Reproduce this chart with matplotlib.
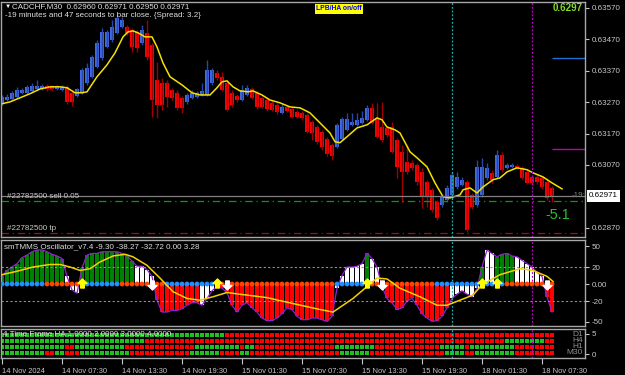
import numpy as np
import matplotlib.pyplot as plt
from matplotlib.path import Path

plt.rcParams['font.family'] = ['Liberation Sans', 'DejaVu Sans']

# CADCHF M30 candles, prices in points (1e-5)
opens = [63268, 63277, 63281, 63287, 63300, 63300, 63306, 63312, 63312, 63322,
         63319, 63312, 63309, 63319, 63300, 63290, 63300, 63332, 63351, 63383,
         63411, 63446, 63469, 63491, 63510, 63510, 63500, 63494, 63459, 63491,
         63453, 63341, 63332, 63332, 63309, 63300, 63284, 63271, 63284, 63287,
         63293, 63293, 63332, 63363, 63351, 63332, 63300, 63290, 63277, 63293,
         63312, 63300, 63284, 63277, 63268, 63262, 63236, 63255, 63249, 63239,
         63236, 63230, 63207, 63191, 63176, 63153, 63134, 63128, 63153, 63182,
         63198, 63198, 63204, 63214, 63252, 63220, 63191, 63188, 63191, 63150,
         63112, 63080, 63077, 63070, 63048, 63016, 62991, 62953, 62943, 62959,
         62975, 63000, 63007, 63016, 62975, 62943, 62975, 63029, 63045, 63032,
         63102, 63061, 63064, 63067, 63061, 63048, 63032, 63032, 63029, 63016,
         62997]
highs = [63293, 63297, 63306, 63319, 63316, 63325, 63332, 63341, 63328, 63328,
         63325, 63325, 63325, 63325, 63309, 63316, 63379, 63395, 63421, 63469,
         63507, 63500, 63532, 63551, 63542, 63516, 63507, 63500, 63516, 63532,
         63459, 63398, 63348, 63341, 63316, 63309, 63290, 63300, 63309, 63306,
         63332, 63405, 63379, 63373, 63367, 63341, 63309, 63297, 63325, 63325,
         63319, 63306, 63290, 63284, 63274, 63268, 63265, 63262, 63255, 63246,
         63242, 63236, 63214, 63198, 63182, 63160, 63141, 63204, 63223, 63236,
         63236, 63236, 63242, 63262, 63268, 63268, 63271, 63195, 63207, 63156,
         63134, 63134, 63086, 63077, 63061, 63023, 62997, 62959, 62975, 63007,
         63048, 63048, 63032, 63023, 62981, 63086, 63093, 63077, 63055, 63118,
         63112, 63077, 63077, 63074, 63067, 63055, 63039, 63039, 63035, 63023,
         63004]
lows = [63262, 63274, 63277, 63284, 63297, 63297, 63303, 63309, 63309, 63306,
        63306, 63309, 63306, 63265, 63258, 63287, 63297, 63325, 63348, 63379,
        63405, 63443, 63462, 63488, 63507, 63484, 63430, 63430, 63453, 63405,
        63223, 63220, 63246, 63255, 63277, 63246, 63236, 63265, 63281, 63284,
        63290, 63290, 63325, 63341, 63306, 63242, 63255, 63271, 63274, 63290,
        63281, 63249, 63252, 63242, 63242, 63233, 63233, 63239, 63220, 63220,
        63214, 63172, 63150, 63137, 63118, 63099, 63086, 63125, 63150, 63179,
        63195, 63195, 63201, 63211, 63201, 63156, 63144, 63160, 63109, 63029,
        62953, 63042, 63055, 63007, 62934, 62937, 62921, 62895, 62937, 62953,
        62972, 62994, 63004, 62857, 62930, 62937, 62969, 63023, 63013, 63029,
        63048, 63058, 63061, 63058, 63026, 63010, 63007, 63010, 62994, 62959,
        62953]
closes = [63287, 63287, 63300, 63309, 63309, 63319, 63322, 63322, 63322, 63312,
          63312, 63319, 63319, 63271, 63271, 63312, 63373, 63379, 63414, 63459,
          63494, 63494, 63510, 63539, 63532, 63491, 63446, 63443, 63500, 63414,
          63277, 63262, 63262, 63287, 63284, 63252, 63252, 63293, 63300, 63300,
          63306, 63373, 63373, 63348, 63309, 63246, 63262, 63277, 63309, 63316,
          63284, 63255, 63255, 63249, 63246, 63239, 63255, 63242, 63223, 63223,
          63220, 63176, 63172, 63144, 63128, 63106, 63099, 63198, 63217, 63217,
          63207, 63214, 63220, 63252, 63204, 63160, 63150, 63166, 63112, 63064,
          63048, 63048, 63061, 63016, 62969, 62969, 62927, 62902, 62969, 62997,
          63039, 63032, 63023, 62863, 62937, 63064, 63064, 63061, 63023, 63102,
          63055, 63070, 63070, 63061, 63029, 63013, 63013, 63016, 63000, 62965,
          62971]

# yellow moving average (bar, price points)
ma_bar = [0, 1.6, 3.6, 5.6, 7.6, 9.6, 11.6, 13, 14.6, 16, 17, 19, 21, 22.6, 24.2,
          25.2, 26.2, 27.2, 28.6, 30, 31, 32.2, 33.6, 36, 38, 39.6, 41.6, 43, 44,
          45, 46.2, 47.6, 49.2, 50.2, 52, 53.6, 55.6, 57.6, 59.6, 61.6, 63.6,
          65.6, 66.6, 67.6, 69, 71, 73, 75, 76, 77, 78.6, 79.6, 81.6, 83, 85,
          86.6, 88.2, 89.6, 91.6, 92.2, 93.6, 95, 96.2, 98.2, 99.6, 101, 103,
          105, 106.2, 108.2, 110, 112]
ma_pts = [63265, 63271, 63284, 63297, 63312, 63319, 63319, 63316, 63300, 63300,
          63303, 63351, 63389, 63427, 63478, 63494, 63497, 63491, 63478, 63478,
          63446, 63395, 63351, 63325, 63300, 63293, 63293, 63316, 63335, 63338,
          63319, 63306, 63303, 63306, 63293, 63277, 63268, 63255, 63252, 63236,
          63204, 63172, 63144, 63141, 63160, 63188, 63198, 63220, 63214, 63191,
          63182, 63172, 63112, 63093, 63064, 63013, 62969, 62965, 62975, 62991,
          62997, 62981, 63000, 63023, 63029, 63048, 63061, 63055, 63045, 63032,
          63013, 62994]

# oscillator
osc_vals = [9, 16, 20, 24, 31, 34, 38, 40, 40, 38, 35, 33, 30, 9, -7, -11, 19, 34, 36, 36,
            38, 38, 38, 38, 36, 33, 27, 21, 21, 17, 9, -19, -33, -33, -31, -31, -29, -25, -22, -22,
            -25, -17, -8, -3, -5, -10, -25, -33, -25, -22, -28, -33, -40, -43, -43, -40, -35, -28, -30, -38,
            -42, -42, -40, -40, -42, -44, -38, -5, 10, 20, 20, 21, 24, 36, 30, 20, -3, -17, -22, -30,
            -28, -20, -17, -25, -35, -40, -44, -43, -38, -28, -17, -12, -8, -12, -15, -5, 20, 40, 36, 32,
            35, 36, 33, 32, 28, 24, 20, 14, 9, -15, -33]
osc_cols = ("ggggggggggggg" "www" "ggggggggggg" "wwww" "rrrrrrrrr" "wwww"
            "rrrrrrrrrrrrrrrrrrrrrrr" "wwwwww" "g" "ww" "rrrrrrrrrrrrrr" "wwwwww"
            "g" "ww" "gggg" "wwwwww" "rr")
dot_cols = ("bbbbbbbbb" "ooooooo" "bbbbbbbb" "ooooooooo" "bbbbbbbbbb"
            "oooooooooooooooooooooooo" "bbbbbb" "oooooooooooooo" "bbbbbbbbbbbbbb"
            "oooooooooo")
sig_bar = [0, 3, 6.2, 9.6, 11.6, 13.6, 15.6, 17.6, 19.6, 22.2, 24.6, 26.2, 29, 31.6,
           34.2, 37, 39.6, 42.2, 45, 47.6, 53, 58.2, 63.6, 66.2, 70.2, 73, 75, 77,
           79.6, 83.6, 87, 89, 91.6, 94.2, 96, 99.6, 103.6, 106.2, 109, 110.2]
sig_val = [11, 15, 20, 23, 23, 20, 16, 18, 26, 33, 35, 32, 22, 7, -9, -17, -19, -15,
           -10, -12, -16, -23, -30, -33, -17, -3, 7, 6, -5, -15, -25, -25, -19, -13,
           -1, 11, 18, 16, 9, 3]
up_bars = [16, 43, 73, 96, 99]
down_bars = [30, 45, 76, 109]

# 4 time frame HA rows (top to bottom)
tf_names = ["D1", "H4", "H1", "M30"]
tf_rows = [
    "g" * 45 + "r" * 66,
    "g" * 29 + "r" * 72 + "g" * 8 + "r" * 2,
    "g" * 13 + "rr" + "g" * 10 + "r" * 14 + "g" * 9 + "r" + "gg" + "r" * 16
    + "g" * 8 + "r" * 13 + "g" * 5 + "r" + "g" * 9 + "r" * 8,
    "g" * 9 + "rr" + "gg" + "rrr" + "g" * 10 + "r" * 12 + "g" * 6 + "r" * 4
    + "gg" + "r" * 18 + "g" * 6 + "r" * 15 + "g" * 4 + "rr" + "g" * 8 + "r" * 8,
]

time_labels = ["14 Nov 2024", "14 Nov 07:30", "14 Nov 13:30", "14 Nov 19:30",
               "15 Nov 01:30", "15 Nov 07:30", "15 Nov 13:30", "15 Nov 19:30",
               "18 Nov 01:30", "18 Nov 07:30"]
price_ticks = [0.63570, 0.63470, 0.63370, 0.63270, 0.63170, 0.63070, 0.62870]

W, H = 625, 375
fig = plt.figure(figsize=(W / 100, H / 100), dpi=100, facecolor='black')


def add_ax(x0, y0, x1, y1):
    a = fig.add_axes([x0 / W, 1 - y1 / H, (x1 - x0) / W, (y1 - y0) / H])
    a.set_facecolor('black')
    for s in a.spines.values():
        s.set_color('#a8a8a8')
        s.set_linewidth(1)
    a.yaxis.tick_right()
    a.tick_params(axis='y', colors='#c8c8c8', labelsize=5.8, length=3, width=0.8, pad=2)
    a.tick_params(axis='x', colors='#c8c8c8', labelsize=5.4, length=4, width=0.8)
    a.set_xlim(-0.2, 116.6)
    return a


def ptext(x, y, s, **kw):
    kw.setdefault('va', 'center')
    kw.setdefault('fontsize', 5.8)
    return fig.text(x / W, 1 - y / H, s, **kw)


ax = add_ax(1, 2, 585, 237)
ax2 = add_ax(1, 240, 585, 326)
ax3 = add_ax(1, 329, 585, 358)

x = np.arange(len(closes))
o = np.array(opens) / 1e5
c = np.array(closes) / 1e5
hi = np.array(highs) / 1e5
lo = np.array(lows) / 1e5
bull = c >= o

# candles
ax.vlines(x, lo, hi, colors=np.where(bull, '#2748a8', '#a00000'), lw=1)
body = np.maximum(np.abs(c - o), 0.000015)
ax.bar(x, body, bottom=np.minimum(o, c), width=0.74,
       color=np.where(bull, '#4169e1', '#ff0000'), lw=0)
ax.plot(ma_bar, np.array(ma_pts) / 1e5, color='#f5e100', lw=1.1)

# order / bid lines
ax.axhline(0.62971, color='#808080', lw=0.9)
ax.axhline(0.62955, color='#00a000', lw=0.9, ls=(0, (6, 3, 1, 3)))
ax.axhline(0.62855, color='#c80000', lw=0.9, ls=(0, (6, 3, 1, 3)))
ax.hlines(0.63410, 110, 116.6, color='#1e6fd0', lw=1)
ax.hlines(0.63120, 110, 116.6, color='#c000c0', lw=1)

ax.set_ylim(0.628407, 0.635891)
ax.set_yticks(price_ticks, [f"{p:.5f}" for p in price_ticks])
ax.set_xticks([])

# oscillator panel
cmap = {'g': '#008000', 'w': '#ffffff', 'r': '#ff0000'}
ax2.bar(x, osc_vals, width=0.62, color=[cmap[k] for k in osc_cols], lw=0)
ax2.plot(x, osc_vals, color='#9020d0', lw=0.9)
for lvl in (20, -20):
    ax2.axhline(lvl, color='#909090', lw=0.8, ls=(0, (2, 2)))
dmap = {'b': '#1e90ff', 'o': '#ff4500'}
ax2.scatter(x, np.zeros(len(x)), s=12, c=[dmap[k] for k in dot_cols], lw=0, zorder=3)
ax2.plot(sig_bar, sig_val, color='#f5d000', lw=1.1, zorder=4)
arrow = Path([(0, 1), (-1, 0), (-0.4, 0), (-0.4, -1), (0.4, -1), (0.4, 0), (1, 0), (0, 1)],
             [Path.MOVETO] + [Path.LINETO] * 6 + [Path.CLOSEPOLY])
arrow_dn = Path(arrow.vertices * [1, -1], arrow.codes)
ax2.plot(up_bars, [1] * len(up_bars), ls='none', marker=arrow, ms=6.5,
         color='#ffff00', mec='#ffff00', zorder=5)
ax2.plot(down_bars, [-1] * len(down_bars), ls='none', marker=arrow_dn, ms=6.5,
         color='#ffffff', mec='#ffffff', zorder=5)
ax2.set_ylim(-49.4, 51.8)
ax2.set_yticks([44.5, 20, 0, -20, -44.5], ["50", "20", "0.00", "-20", "-50"])
ax2.set_xticks([])

# time frame panel
tmap = {'g': '#20c020', 'r': '#ff0000'}
for k, row in enumerate(tf_rows):
    ax3.bar(x, 0.72, bottom=4 - k - 0.36, width=0.78,
            color=[tmap[ch] for ch in row], lw=0)
ax3.set_ylim(0.1667, 5.0)
ax3.set_yticks([4.2, 0.8], ["5", "0"])
ax3.set_xticks(np.arange(0, 109, 12), time_labels)
for lab in ax3.get_xticklabels():
    lab.set_horizontalalignment('left')

for a in (ax, ax2, ax3):
    a.axvline(90, color='#20b2aa', lw=0.9, ls=(0, (1.5, 1.5)))
    a.axvline(106, color='#c000c0', lw=0.9, ls=(0, (1.5, 1.5)))

# texts
ptext(5, 6, "\u25bc", color='white', fontsize=4.5)
ptext(12, 6.5, "CADCHF,M30  0.62960 0.62971 0.62950 0.62971", color='#e0e0e0')
ptext(5, 15.5, "-19 minutes and 47 seconds to bar close. {Spread: 3.2}", color='#e0e0e0')
ptext(316, 9, "LPB/HA on/off", color='#0000ff', fontsize=4.9, fontweight='bold',
      bbox=dict(boxstyle='square,pad=0.15', fc='#ffff00', ec='none'))
ptext(583, 8, "0.6297", color='#80e020', fontsize=7, fontweight='bold', ha='right')
ptext(7, 197, "#22782500 sell 0.05", color='#c8c8c8')
ptext(7, 228, "#22782500 tp", color='#c8c8c8')
ptext(545, 215, "-5.1", color='#2ebd2e', fontsize=10.4)
ptext(572, 196, "-19:", color='#808080')
ptext(589, 196, "0.62971", color='black',
      bbox=dict(boxstyle='square,pad=0.25', fc='white', ec='none'))
ptext(4, 247, "smTMMS Oscillator_v7.4 -9.30 -38.27 -32.72 0.00 3.28", color='#e0e0e0')
ptext(3, 335, "4 Time Frame HA 1.0000 2.0000 3.0000 4.0000", color='#e0e0e0')
for k, name in enumerate(tf_names):
    ptext(583, 335 + 6 * k, name, color='#909090', ha='right', fontsize=6)

fig.savefig("out.png", dpi=100, facecolor='black')
